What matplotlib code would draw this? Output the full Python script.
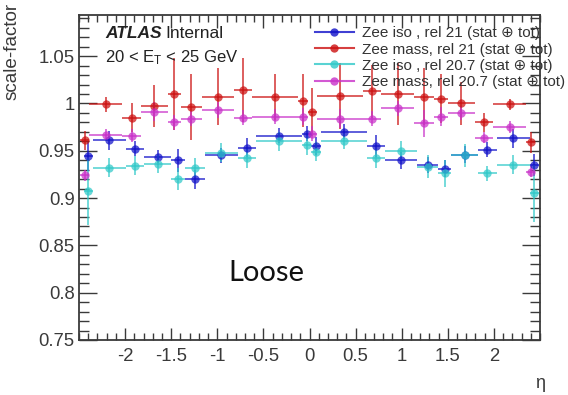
import matplotlib
matplotlib.use("Agg")
import matplotlib.pyplot as plt
import numpy as np
from matplotlib.lines import Line2D
from matplotlib.ticker import MultipleLocator

plt.rcParams["font.family"] = ["Liberation Sans", "DejaVu Sans"]
plt.rcParams["mathtext.fontset"] = "custom"
plt.rcParams["mathtext.rm"] = "Liberation Sans"
plt.rcParams["mathtext.it"] = "Liberation Sans:italic"

# eta binning and per-bin scale factors
eta_edges = [-2.47, -2.37, -2.01, -1.81, -1.52, -1.37, -1.15, -0.8, -0.6, -0.1, 0.0,
             0.1, 0.6, 0.8, 1.15, 1.37, 1.52, 1.81, 2.01, 2.37, 2.47]

iso21 = [0.944, 0.961, 0.952, 0.943, 0.940, 0.920, 0.945, 0.953, 0.966, 0.968,
         0.955, 0.970, 0.955, 0.940, 0.935, 0.931, 0.946, 0.951, 0.963, 0.935]
iso21_err = [0.015, 0.010, 0.008, 0.008, 0.012, 0.010, 0.008, 0.010, 0.008, 0.008,
             0.010, 0.008, 0.012, 0.009, 0.008, 0.009, 0.009, 0.008, 0.010, 0.012]

mass21 = [0.961, 0.999, 0.985, 0.997, 1.010, 0.996, 1.007, 1.014, 1.007, 1.003,
          0.991, 1.008, 1.013, 1.010, 1.007, 1.005, 1.000, 0.980, 0.999, 0.959]
mass21_err = [0.010, 0.008, 0.015, 0.022, 0.038, 0.035, 0.030, 0.034, 0.024, 0.028,
              0.025, 0.035, 0.028, 0.033, 0.030, 0.026, 0.023, 0.010, 0.006, 0.011]

iso207 = [0.907, 0.932, 0.934, 0.936, 0.920, 0.932, 0.948, 0.942, 0.960, 0.956,
          0.949, 0.960, 0.942, 0.950, 0.933, 0.926, 0.945, 0.926, 0.935, 0.905]
iso207_err = [0.035, 0.010, 0.010, 0.010, 0.012, 0.010, 0.010, 0.010, 0.010, 0.010,
              0.010, 0.008, 0.010, 0.010, 0.012, 0.014, 0.012, 0.008, 0.010, 0.030]

mass207 = [0.924, 0.967, 0.966, 0.991, 0.980, 0.984, 0.993, 0.985, 0.986, 0.986,
           0.968, 0.984, 0.984, 0.995, 0.979, 0.986, 0.990, 0.964, 0.975, 0.928]
mass207_err = [0.006, 0.006, 0.007, 0.010, 0.008, 0.008, 0.008, 0.008, 0.008, 0.009,
               0.008, 0.010, 0.008, 0.008, 0.014, 0.010, 0.007, 0.006, 0.006, 0.006]

labels = ["Zee iso , rel 21 (stat \u2295 tot)",
          "Zee mass, rel 21 (stat \u2295 tot)",
          "Zee iso , rel 20.7 (stat \u2295 tot)",
          "Zee mass, rel 20.7 (stat \u2295 tot)"]

BLUE = "#1010c8"
RED = "#cc1010"
CYAN = "#30c8c8"
MAGENTA = "#c830c8"
FRAME = "#3a3a3a"

edges = np.array(eta_edges)
centers = 0.5 * (edges[1:] + edges[:-1])
half = 0.5 * (edges[1:] - edges[:-1])

fig = plt.figure(figsize=(5.68, 3.95), dpi=100)
ax = fig.add_axes([79 / 568, 1 - 340 / 395, 461 / 568, 325.5 / 395])

series = [
    (iso21, iso21_err, BLUE, 0.02),
    (mass21, mass21_err, RED, -0.02),
    (iso207, iso207_err, CYAN, 0.02),
    (mass207, mass207_err, MAGENTA, -0.02),
]
for vals, errs, col, shift in series:
    ax.errorbar(centers + shift, vals, yerr=errs, xerr=half, fmt="o", color=col,
                ms=6, elinewidth=1.3, capsize=2.8, capthick=1.3, alpha=0.72, mew=0)

ax.set_xlim(-2.5, 2.5)
ax.set_ylim(0.75, 1.094)
ax.xaxis.set_major_locator(MultipleLocator(0.5))
ax.xaxis.set_minor_locator(MultipleLocator(0.1))
ax.yaxis.set_major_locator(MultipleLocator(0.05))
ax.yaxis.set_minor_locator(MultipleLocator(0.01))
ax.set_xticks([-2, -1.5, -1, -0.5, 0, 0.5, 1, 1.5, 2])
ax.set_xticklabels(["-2", "-1.5", "-1", "-0.5", "0", "0.5", "1", "1.5", "2"])
ax.set_yticks([0.75, 0.8, 0.85, 0.9, 0.95, 1.0, 1.05])
ax.set_yticklabels(["0.75", "0.8", "0.85", "0.9", "0.95", "1", "1.05"])
ax.tick_params(which="both", direction="in", top=True, right=True, colors=FRAME,
               labelsize=13.3, width=1.0)
ax.tick_params(axis="x", which="major", length=9, pad=6)
ax.tick_params(axis="x", which="minor", length=5)
ax.tick_params(axis="y", which="major", length=13, pad=3)
ax.tick_params(axis="y", which="minor", length=7)
for sp in ax.spines.values():
    sp.set_color(FRAME)
    sp.set_linewidth(1.3)

fig.text(12 / 568, 1 - 3 / 395, "scale-factor", rotation=90, ha="center", va="top",
         fontsize=13.6, color=FRAME)
fig.text(540 / 568, 1 - 383 / 395, "\u03b7", ha="center", va="center", fontsize=13,
         color=FRAME)

fig.text(105 / 568, 1 - 33 / 395, "ATLAS", fontsize=12.5, fontweight="bold",
         fontstyle="italic", va="center", color="#222222")
fig.text(165 / 568, 1 - 33 / 395, "Internal", fontsize=12.5, va="center", color="#222222")
fig.text(105 / 568, 1 - 58 / 395, r"20 < E$_{\mathrm{T}}$ < 25 GeV", fontsize=12,
         va="center", color="#222222")
fig.text(228 / 568, 1 - 273 / 395, "Loose", fontsize=21, family="Lato", va="center",
         color="#111111")

handles = [Line2D([], [], color=c, marker="o", ms=6, lw=1.5, alpha=0.8, mew=0)
           for c in (BLUE, RED, CYAN, MAGENTA)]
fig.legend(handles, labels, loc="upper left", bbox_to_anchor=(315 / 568, 1 - 26.5 / 395),
           frameon=False, fontsize=11, borderpad=0, borderaxespad=0, handlelength=2.55,
           handletextpad=0.5, labelspacing=0.14, labelcolor="#333333")

fig.savefig("out.png", dpi=100, facecolor="white")
